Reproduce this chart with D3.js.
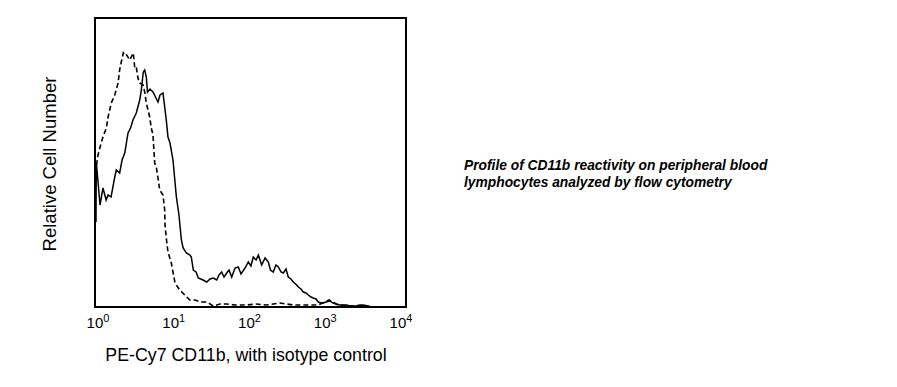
<!DOCTYPE html>
<html>
<head>
<meta charset="utf-8">
<script src="https://cdn.jsdelivr.net/npm/d3@7.9.0/dist/d3.min.js"></script>
<style>
  body { margin: 0; background: #fff; }
  svg { display: block; }
  text { font-family: "Liberation Sans", Arial, sans-serif; fill: #000; }
</style>
</head>
<body>
<svg id="chart" width="897" height="387"></svg>
<script>
// CD11b (solid) histogram
const cd11bIntensity = [0.955, 0.964, 1.08, 1.18, 1.30, 1.38, 1.51, 1.69, 1.77, 1.96, 2.11, 2.29, 2.53, 2.73, 2.94,
  3.25, 3.61, 3.79, 4.02, 4.20, 4.41, 4.57, 4.93, 5.40, 5.83, 6.29, 6.69, 7.32, 7.71, 8.09, 8.52, 9.06, 9.92,
  11.0, 11.9, 12.8, 13.5, 14.9, 16.6, 17.3, 18.4, 20.0, 21.4, 24.7, 27.7, 30.6, 33.8, 37.5, 40.2, 43.6, 46.8,
  50.8, 54.5, 59.1, 65.4, 72.3, 78.4, 88.6, 97.9, 106, 114, 124, 133, 147, 163, 180, 192, 209, 227, 244, 265,
  284, 308, 330, 358, 384, 426, 448, 486, 521, 566, 607, 658, 706, 766, 822, 892, 957, 1039, 1173, 1285, 1408,
  1590, 1949, 2154, 2585, 3228, 3957, 5362, 11820];
const cd11bCount = [85, 145, 102, 119, 107, 112, 110, 130, 137, 134, 147, 154, 174, 179, 187,
  194, 207, 217, 235, 237, 230, 215, 218, 215, 210, 205, 212, 214, 200, 187, 170, 164, 147,
  110, 92, 67, 59, 54, 52, 50, 37, 35, 29, 27, 25, 28, 29, 27, 32, 35, 30,
  34, 37, 30, 39, 40, 33, 39, 45, 41, 50, 47, 52, 42, 49, 45, 37, 35, 42, 40, 35,
  34, 38, 30, 28, 25, 22, 20, 18, 15, 14, 12, 10, 9, 8, 5, 4, 4, 5, 6, 4, 3,
  2, 2, 1, 1, 2, 0.5, 0, 0];

// isotype control (dashed)
const isotypeIntensity = [0.970, 1.015, 1.10, 1.18, 1.31, 1.38, 1.52, 1.69, 1.87, 1.96, 2.06, 2.19, 2.31, 2.43,
  2.66, 2.79, 2.97, 3.10, 3.25, 3.42, 3.61, 3.99, 4.20, 4.41, 4.89, 5.13, 5.40, 5.69, 5.97, 6.29, 6.63, 7.32,
  7.71, 7.78, 8.15, 8.52, 9.43, 9.92, 10.5, 11.2, 12.2, 14.2, 16.5, 19.4, 22.6, 27.7, 33.8, 41.4, 50.8, 65.4,
  93.2, 124, 171, 257, 384, 549, 815, 1008, 1138, 1285, 1496, 2154, 3199, 3957, 11820];
const isotypeCount = [142, 152, 162, 170, 179, 190, 204, 212, 224, 237, 245, 254, 251, 252,
  247, 250, 254, 239, 240, 229, 224, 222, 215, 204, 190, 179, 172, 144, 140, 129, 117, 112,
  97, 82, 67, 55, 44, 35, 25, 21, 17, 12, 7, 7, 5, 5, 1, 3, 3, 2,
  2, 3, 2, 4, 2, 2, 2, 5, 7, 5, 2, 1, 2, 0, 0];

const xTickValues = [1, 10, 100, 1000, 10000];
const xTickExponents = ["0", "1", "2", "3", "4"];

const yLabel = "Relative Cell Number";
const xLabel = "PE-Cy7 CD11b, with isotype control";
const noteLines = ["Profile of CD11b reactivity on peripheral blood",
  "lymphocytes analyzed by flow cytometry"];

const box = { left: 95, right: 406, top: 18, bottom: 307 };

const svg = d3.select("#chart");

let x = d3.scaleLog()
  .domain([1, 10000])
  .range([97.5, 400.5]);

let y = d3.scaleLinear()
  .domain([0, 289])
  .range([box.bottom, box.top]);

svg.append("clipPath")
  .attr("id", "plot-clip")
  .append("rect")
  .attr("x", box.left)
  .attr("y", box.top)
  .attr("width", box.right - box.left)
  .attr("height", box.bottom - box.top);

let line = d3.line()
  .x(d => x(d[0]))
  .y(d => y(d[1]));

const isotype = d3.zip(isotypeIntensity, isotypeCount);
const cd11b = d3.zip(cd11bIntensity, cd11bCount);

svg.append("path")
  .attr("clip-path", "url(#plot-clip)")
  .attr("d", line(isotype))
  .attr("fill", "none")
  .attr("stroke", "#000")
  .attr("stroke-width", 1.6)
  .attr("stroke-dasharray", "5,3");

svg.append("path")
  .attr("clip-path", "url(#plot-clip)")
  .attr("d", line(cd11b))
  .attr("fill", "none")
  .attr("stroke", "#000")
  .attr("stroke-width", 1.5);

// frame
svg.append("rect")
  .attr("x", box.left)
  .attr("y", box.top)
  .attr("width", box.right - box.left)
  .attr("height", box.bottom - box.top)
  .attr("fill", "none")
  .attr("stroke", "#000")
  .attr("stroke-width", 2);

// x axis labels (no tick marks, 10^n labels)
let xAxis = d3.axisBottom(x)
  .tickValues(xTickValues)
  .tickSize(0)
  .tickFormat("");

let axisG = svg.append("g")
  .attr("transform", `translate(0,${box.bottom})`)
  .call(xAxis);
axisG.select(".domain").remove();

axisG.selectAll(".tick").each(function (d, i) {
  let t = d3.select(this).append("text")
    .attr("y", 21)
    .attr("text-anchor", "middle")
    .style("font-size", "15px");
  t.append("tspan").text("10");
  t.append("tspan")
    .attr("dy", -6)
    .style("font-size", "11px")
    .text(xTickExponents[i]);
});

svg.append("text")
  .attr("x", 246)
  .attr("y", 361)
  .attr("text-anchor", "middle")
  .style("font-size", "17.8px")
  .text(xLabel);

svg.append("text")
  .attr("transform", "translate(56,164) rotate(-90)")
  .attr("text-anchor", "middle")
  .style("font-size", "18.5px")
  .text(yLabel);

svg.append("g")
  .selectAll("text")
  .data(noteLines)
  .join("text")
  .attr("x", 464)
  .attr("y", (d, i) => 170 + i * 17)
  .style("font-size", "13.8px")
  .style("font-weight", "bold")
  .style("font-style", "italic")
  .text(d => d);
</script>
</body>
</html>
